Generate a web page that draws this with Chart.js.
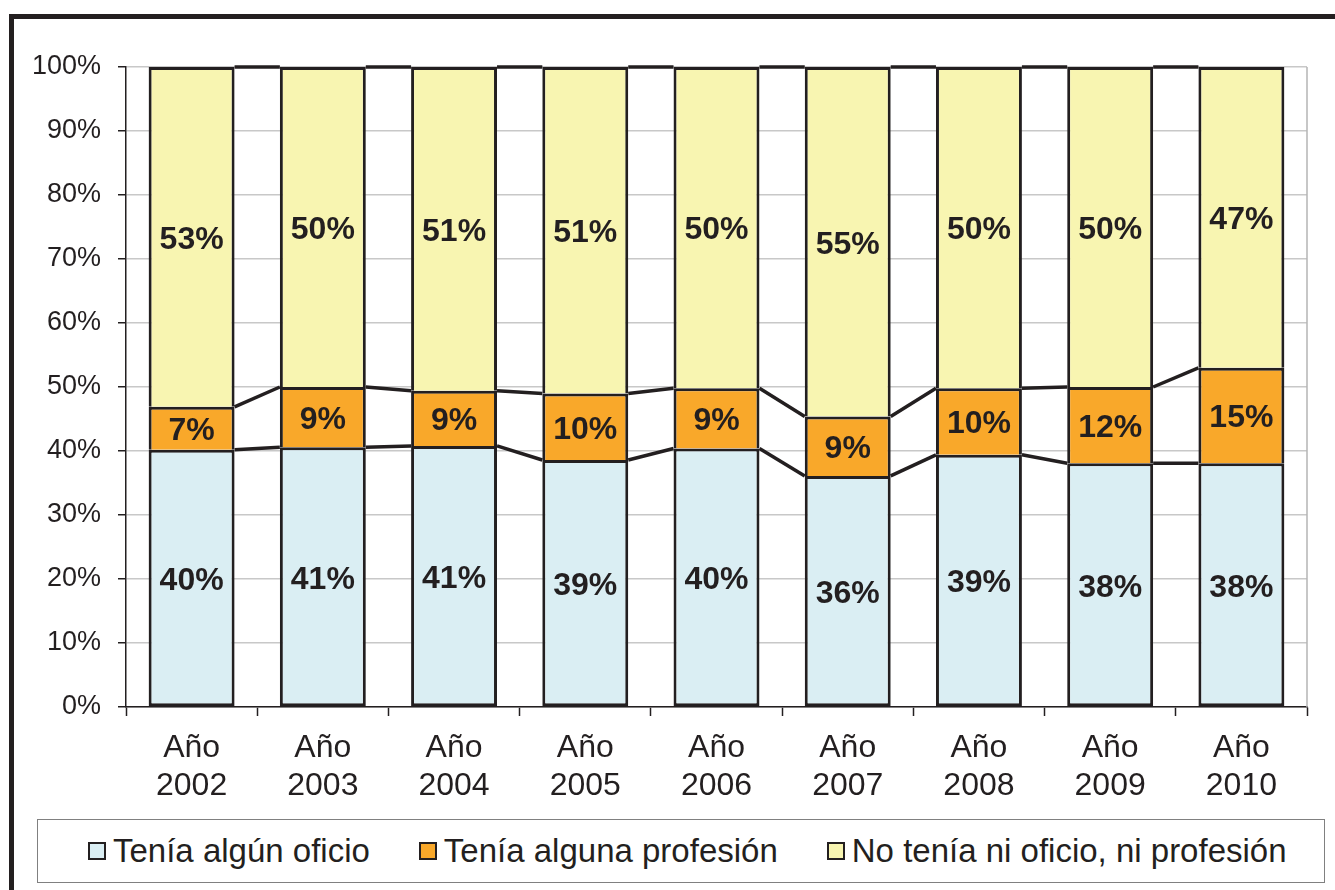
<!DOCTYPE html>
<html lang="es">
<head>
<meta charset="utf-8">
<title>Oficio y profesión 2002-2010</title>
<script src="https://cdn.jsdelivr.net/npm/chart.js@4.4.1/dist/chart.umd.min.js"></script>
<style>
  html, body { margin: 0; padding: 0; background: #fff; overflow: hidden; }
  body { width: 1335px; height: 890px; position: relative; font-family: "Liberation Sans", Arial, sans-serif; }
  #frame {
    position: absolute; left: 9px; top: 14px; width: 2000px; height: 2000px;
    border-top: 5px solid #231f20; border-left: 5px solid #231f20;
  }
  #chart { position: absolute; left: 0; top: 0; }
  #legend {
    position: absolute; left: 37px; top: 819px; width: 1288px; height: 64px;
    border: 1.5px solid #808080; display: flex; align-items: center;
    padding-left: 50px; box-sizing: border-box; background: #fff;
  }
  .item { display: flex; align-items: center; margin-right: 49px; }
  .box { width: 14px; height: 14px; border: 2px solid #231f20; margin-right: 7px; }
  .txt { font-size: 33px; color: #231f20; white-space: nowrap; }
</style>
</head>
<body>
<div id="frame"></div>
<canvas id="chart" width="1335" height="812"></canvas>
<div id="legend"></div>
<script>
const years = ["2002", "2003", "2004", "2005", "2006", "2007", "2008", "2009", "2010"];
const oficio = [40.2, 40.6, 40.8, 38.6, 40.4, 36.1, 39.4, 38.1, 38.1];
const profesion = [6.7, 9.4, 8.6, 10.4, 9.4, 9.3, 10.4, 11.9, 14.9];
const ninguno = [53.1, 50.0, 50.6, 51.0, 50.2, 54.6, 50.2, 50.0, 47.0];
const seriesNames = ["Tenía algún oficio", "Tenía alguna profesión", "No tenía ni oficio, ni profesión"];
const yTicks = [0, 10, 20, 30, 40, 50, 60, 70, 80, 90, 100];

const INK = "#231f20";
const colors = ["#daeef3", "#f9a82a", "#f8f5b1"];

// Excel-style series lines between bar tops + labels in the middle of each segment
const stackExtras = {
  id: "stackExtras",
  beforeDatasetsDraw(chart) {
    const { ctx, chartArea } = chart;
    ctx.save();
    ctx.strokeStyle = "#b4b4b4";
    ctx.lineWidth = 1.5;
    ctx.beginPath();
    ctx.moveTo(chartArea.right, chartArea.top);
    ctx.lineTo(chartArea.right, chartArea.bottom);
    ctx.stroke();
    ctx.restore();
  },
  afterDatasetsDraw(chart) {
    const ctx = chart.ctx;
    ctx.save();
    ctx.strokeStyle = INK;
    ctx.lineWidth = 3.5;
    chart.data.datasets.forEach((ds, d) => {
      const bars = chart.getDatasetMeta(d).data;
      for (let i = 0; i < bars.length - 1; i++) {
        const a = bars[i], b = bars[i + 1];
        ctx.beginPath();
        ctx.moveTo(a.x + a.width / 2, a.y);
        ctx.lineTo(b.x - b.width / 2, b.y);
        ctx.stroke();
      }
    });
    ctx.fillStyle = INK;
    ctx.font = "bold 32px 'Liberation Sans', Arial, sans-serif";
    ctx.textAlign = "center";
    ctx.textBaseline = "middle";
    chart.data.datasets.forEach((ds, d) => {
      chart.getDatasetMeta(d).data.forEach((bar, i) => {
        ctx.fillText(Math.round(ds.data[i]) + "%", bar.x, (bar.y + bar.base) / 2 + 3);
      });
    });
    ctx.restore();
  },
};

function makeDataset(label, data, color, skip) {
  return {
    label,
    data,
    backgroundColor: color,
    borderColor: INK,
    borderWidth: 3,
    borderSkipped: skip,
    barPercentage: 0.655,
    categoryPercentage: 1,
  };
}

function initChart() {
  const ctx = document.getElementById("chart").getContext("2d");
  new Chart(ctx, {
    type: "bar",
    data: {
      labels: years.map((y) => ["Año", y]),
      datasets: [
        makeDataset(seriesNames[0], oficio, colors[0], false),
        makeDataset(seriesNames[1], profesion, colors[1], "start"),
        makeDataset(seriesNames[2], ninguno, colors[2], "start"),
      ],
    },
    options: {
      responsive: false,
      animation: false,
      devicePixelRatio: 1,
      layout: { padding: { top: 67, right: 28, left: 0, bottom: 0 } },
      plugins: { legend: { display: false }, tooltip: { enabled: false } },
      scales: {
        x: {
          stacked: true,
          grid: { offset: true, drawOnChartArea: false, drawTicks: true, tickLength: 9, tickColor: INK, tickWidth: 1.5 },
          border: { color: INK, width: 1.5 },
          ticks: {
            color: INK,
            font: { family: "'Liberation Sans', Arial, sans-serif", size: 32 },
            padding: 13,
            maxRotation: 0,
            autoSkip: false,
          },
          afterFit(scale) { scale.height = 105; },
        },
        y: {
          stacked: true,
          min: 0,
          max: 100,
          afterBuildTicks(scale) { scale.ticks = yTicks.map((v) => ({ value: v })); },
          grid: { color: "#c8c8c8", lineWidth: 1.5, tickLength: 8, tickColor: INK, tickWidth: 1.5 },
          border: { color: INK, width: 1.5 },
          ticks: {
            color: INK,
            font: { family: "'Liberation Sans', Arial, sans-serif", size: 27 },
            padding: 17,
            callback: (v) => v + "%",
          },
          afterFit(scale) { scale.width = 126; },
        },
      },
    },
    plugins: [stackExtras],
  });
}

function buildLegend() {
  const box = document.getElementById("legend");
  seriesNames.forEach((name, i) => {
    const item = document.createElement("div");
    item.className = "item";
    const sw = document.createElement("div");
    sw.className = "box";
    sw.style.background = colors[i];
    const t = document.createElement("span");
    t.className = "txt";
    t.textContent = name;
    item.appendChild(sw);
    item.appendChild(t);
    box.appendChild(item);
  });
}

initChart();
buildLegend();
</script>
</body>
</html>
